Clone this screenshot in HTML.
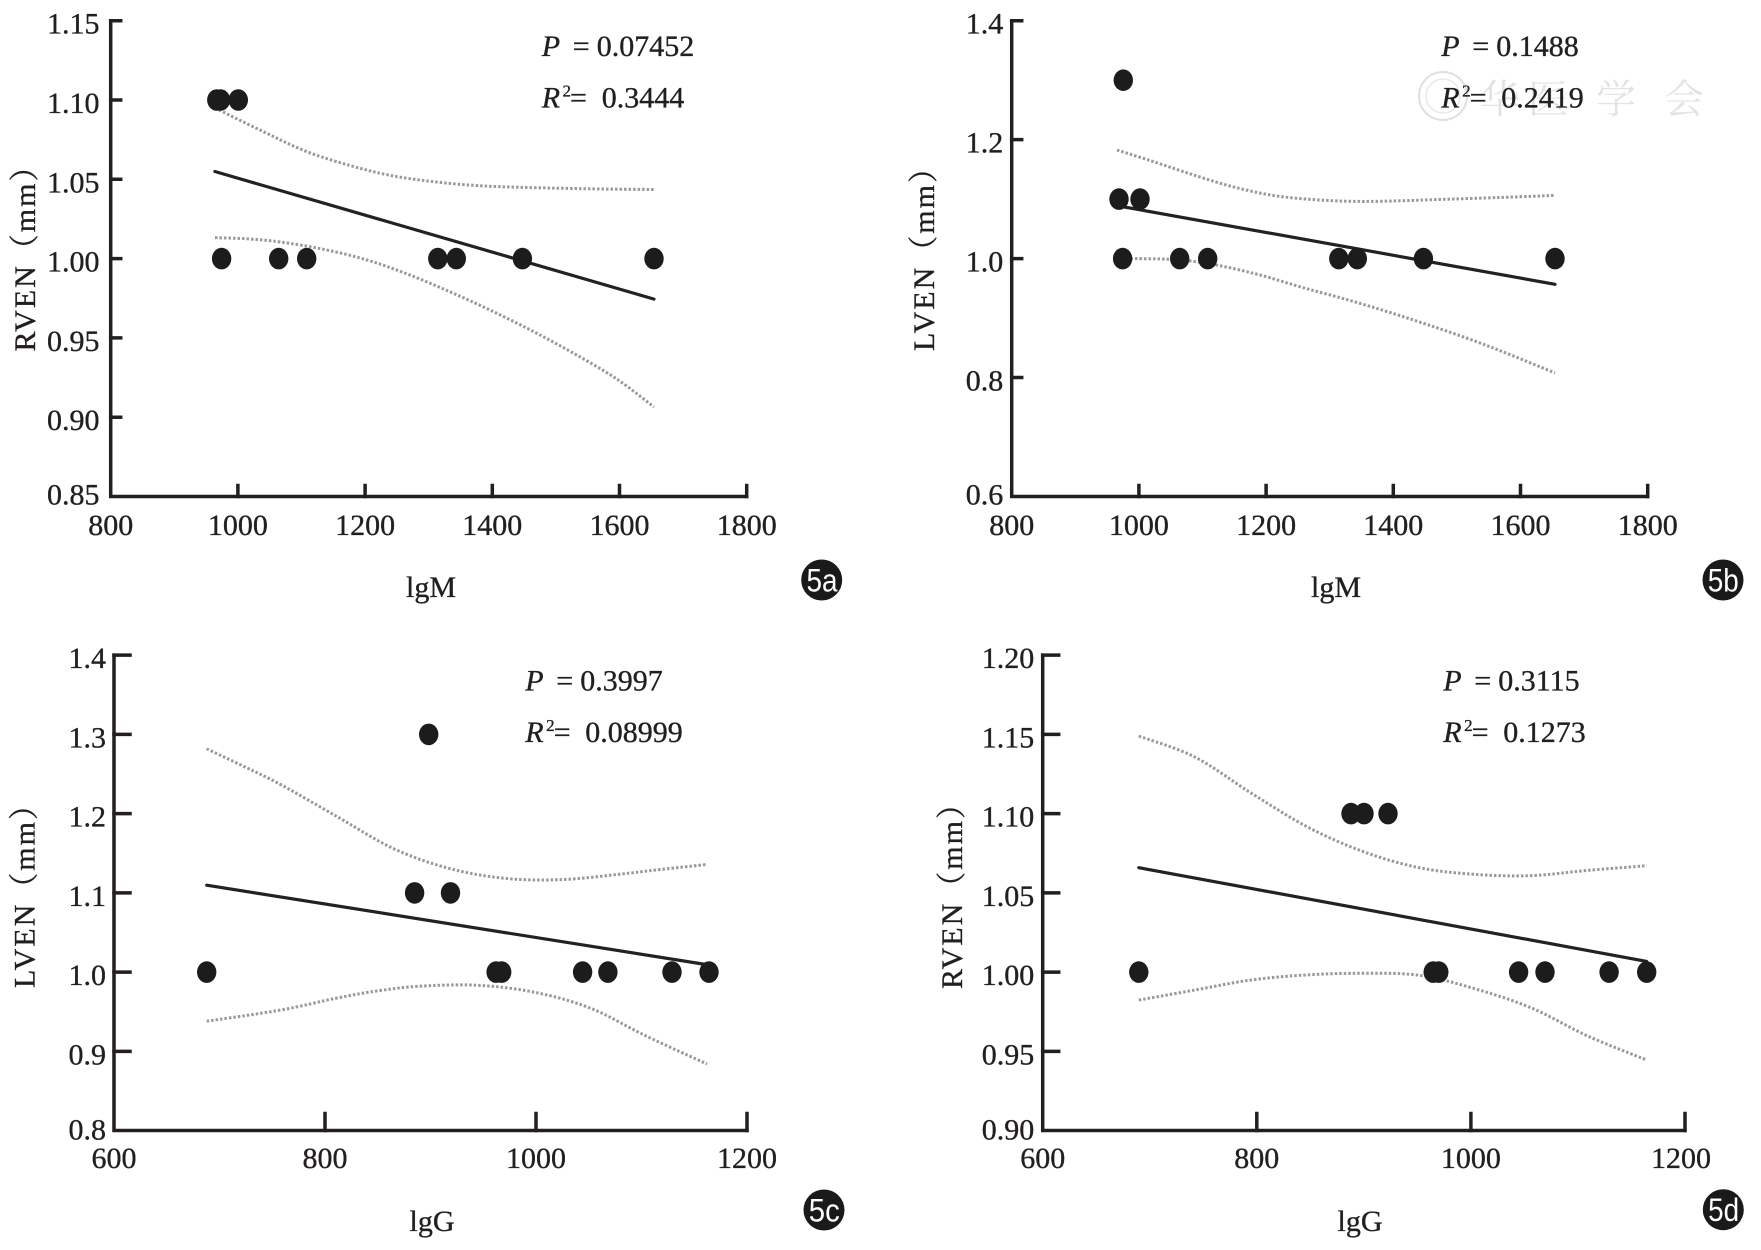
<!DOCTYPE html>
<html>
<head>
<meta charset="utf-8">
<style>
  html,body{margin:0;padding:0;background:#fff;}
  svg{display:block;}
  .t{font-family:"Liberation Serif","Noto Serif CJK SC",serif;font-size:30px;fill:#231f20;stroke:#231f20;stroke-width:0.35;}
  .ax{fill:none;stroke:#231f20;stroke-width:3.5;stroke-linecap:square;stroke-linejoin:miter;}
  .reg{fill:none;stroke:#222;stroke-width:3.2;stroke-linecap:round;}
  .ci{fill:none;stroke:#9a9a9a;stroke-width:3;stroke-dasharray:2.5 2;stroke-linejoin:round;}
  .pt{fill:#1c1c1c;}
  .bd{font-family:"Liberation Sans",sans-serif;font-size:32px;fill:#fff;}
</style>
</head>
<body>
<svg width="1761" height="1250" viewBox="0 0 1761 1250" xmlns="http://www.w3.org/2000/svg">
<rect width="1761" height="1250" fill="#fff"/>

<!-- watermark panel b -->
<g opacity="0.9">
  <circle cx="1443" cy="96" r="24" fill="none" stroke="#dcdcdc" stroke-width="2"/>
  <circle cx="1443" cy="96" r="17" fill="none" stroke="#e6e6e6" stroke-width="1.5"/>
  <text x="1480" y="113" font-family="'Noto Serif CJK SC',serif" font-size="40" fill="#e0e0e0">华</text>
  <text x="1528" y="113" font-family="'Noto Serif CJK SC',serif" font-size="40" fill="#e0e0e0">医</text>
  <text x="1596" y="113" font-family="'Noto Serif CJK SC',serif" font-size="40" fill="#e0e0e0">学</text>
  <text x="1664" y="113" font-family="'Noto Serif CJK SC',serif" font-size="40" fill="#e0e0e0">会</text>
</g>

<!-- ================= PANEL A ================= -->
<path class="ax" d="M110.7,20.7 V496.5 H746.7"/>
<path class="ax" d="M110.7,20.7 h10 M110.7,100 h10 M110.7,179.3 h10 M110.7,258.6 h10 M110.7,337.9 h10 M110.7,417.2 h10
 M237.9,496.5 v-11 M365.1,496.5 v-11 M492.3,496.5 v-11 M619.5,496.5 v-11 M746.7,496.5 v-11"/>
<g class="t" text-anchor="end">
  <text x="99.5" y="33.7">1.15</text>
  <text x="99.5" y="113">1.10</text>
  <text x="99.5" y="192.3">1.05</text>
  <text x="99.5" y="271.6">1.00</text>
  <text x="99.5" y="350.9">0.95</text>
  <text x="99.5" y="430.2">0.90</text>
  <text x="99.5" y="504.5">0.85</text>
</g>
<g class="t" text-anchor="middle">
  <text x="110.7" y="535">800</text>
  <text x="237.9" y="535">1000</text>
  <text x="365.1" y="535">1200</text>
  <text x="492.3" y="535">1400</text>
  <text x="619.5" y="535">1600</text>
  <text x="746.7" y="535">1800</text>
  <text x="431" y="597">lgM</text>
  <text transform="translate(35,251.5) rotate(-90)" textLength="200" lengthAdjust="spacing">RVEN（mm）</text>
</g>
<polyline class="ci" points="215,108 262,131 306.4,151.5 350,165.5 390.4,175.4 432,181.5 474.4,185.4 516,187.2 558.5,188.2 600,189 654,189.5"/>
<polyline class="ci" points="215,237.6 250,239 280.4,242 322,249 364.4,259.2 406,273.5 448.4,291.1 490,310 532.4,331 574,353.5 616.5,378.8 654,407"/>
<path class="reg" d="M214.9,171.5 L654,299.1"/>
<g class="pt">
  <ellipse cx="216.8" cy="100" rx="9.7" ry="10.8"/>
  <ellipse cx="220.5" cy="100" rx="9.7" ry="10.8"/>
  <ellipse cx="238.3" cy="100" rx="9.7" ry="10.8"/>
  <ellipse cx="221.6" cy="258.6" rx="9.7" ry="10.8"/>
  <ellipse cx="278.7" cy="258.6" rx="9.7" ry="10.8"/>
  <ellipse cx="306.7" cy="258.6" rx="9.7" ry="10.8"/>
  <ellipse cx="437.8" cy="258.6" rx="9.7" ry="10.8"/>
  <ellipse cx="456.3" cy="258.6" rx="9.7" ry="10.8"/>
  <ellipse cx="522.4" cy="258.6" rx="9.7" ry="10.8"/>
  <ellipse cx="654" cy="258.6" rx="9.7" ry="10.8"/>
</g>
<g class="t">
  <text x="541.7" y="56" font-style="italic">P</text>
  <text x="572.7" y="56">=</text>
  <text x="596.7" y="56">0.07452</text>
  <text x="541.7" y="107.3" font-style="italic">R</text>
  <text x="562.5" y="96.5" font-size="17">2</text>
  <text x="570" y="107.3">=</text>
  <text x="601.7" y="107.3">0.3444</text>
</g>
<circle cx="821.7" cy="580" r="20.5" fill="#1a1a1a"/>
<text class="bd" x="822" y="591.5" text-anchor="middle" textLength="31" lengthAdjust="spacingAndGlyphs">5a</text>

<!-- ================= PANEL B ================= -->
<path class="ax" d="M1011.7,20.7 V496.5 H1647.7"/>
<path class="ax" d="M1011.7,20.7 h10 M1011.7,139.65 h10 M1011.7,258.6 h10 M1011.7,377.55 h10
 M1138.9,496.5 v-11 M1266.1,496.5 v-11 M1393.3,496.5 v-11 M1520.5,496.5 v-11 M1647.7,496.5 v-11"/>
<g class="t" text-anchor="end">
  <text x="1003.3" y="33.7">1.4</text>
  <text x="1003.3" y="152.65">1.2</text>
  <text x="1003.3" y="271.6">1.0</text>
  <text x="1003.3" y="390.55">0.8</text>
  <text x="1003.3" y="504.5">0.6</text>
</g>
<g class="t" text-anchor="middle">
  <text x="1011.7" y="535">800</text>
  <text x="1138.9" y="535">1000</text>
  <text x="1266.1" y="535">1200</text>
  <text x="1393.3" y="535">1400</text>
  <text x="1520.5" y="535">1600</text>
  <text x="1647.7" y="535">1800</text>
  <text x="1336" y="597">lgM</text>
  <text transform="translate(934,252) rotate(-90)" textLength="198" lengthAdjust="spacing">LVEN（mm）</text>
</g>
<polyline class="ci" points="1117,150 1150,160.5 1188.9,173.4 1230,186 1273,195.4 1315,199.7 1357.2,201.4 1400,200.8 1441.3,199.4 1500,197.5 1555,195.4"/>
<polyline class="ci" points="1117,258.6 1175,259.5 1217,265.2 1260,275 1301.1,287.1 1343,298.5 1385.2,311 1427,324.5 1469.3,339 1511,355 1555,373"/>
<path class="reg" d="M1116,205.5 L1555,284.3"/>
<g class="pt">
  <ellipse cx="1123.3" cy="80.2" rx="9.7" ry="10.8"/>
  <ellipse cx="1119" cy="199.1" rx="9.7" ry="10.8"/>
  <ellipse cx="1140" cy="199.1" rx="9.7" ry="10.8"/>
  <ellipse cx="1122.6" cy="258.6" rx="9.7" ry="10.8"/>
  <ellipse cx="1179.7" cy="258.6" rx="9.7" ry="10.8"/>
  <ellipse cx="1207.7" cy="258.6" rx="9.7" ry="10.8"/>
  <ellipse cx="1338.8" cy="258.6" rx="9.7" ry="10.8"/>
  <ellipse cx="1357.3" cy="258.6" rx="9.7" ry="10.8"/>
  <ellipse cx="1423.4" cy="258.6" rx="9.7" ry="10.8"/>
  <ellipse cx="1555" cy="258.6" rx="9.7" ry="10.8"/>
</g>
<g class="t">
  <text x="1441.3" y="56" font-style="italic">P</text>
  <text x="1472.3" y="56">=</text>
  <text x="1496.3" y="56">0.1488</text>
  <text x="1441.3" y="107.3" font-style="italic">R</text>
  <text x="1462.1" y="96.5" font-size="17">2</text>
  <text x="1469.6" y="107.3">=</text>
  <text x="1501.3" y="107.3">0.2419</text>
</g>
<circle cx="1723" cy="580" r="20.5" fill="#1a1a1a"/>
<text class="bd" x="1723.3" y="591.5" text-anchor="middle" textLength="31" lengthAdjust="spacingAndGlyphs">5b</text>

<!-- ================= PANEL C ================= -->
<path class="ax" d="M114,655.1 V1130.5 H747"/>
<path class="ax" d="M114,655.1 h16 M114,734.35 h16 M114,813.6 h16 M114,892.85 h16 M114,972.1 h16 M114,1051.35 h16
 M325,1130.5 v-17 M536,1130.5 v-17 M747,1130.5 v-17"/>
<g class="t" text-anchor="end">
  <text x="106" y="668.1">1.4</text>
  <text x="106" y="747.35">1.3</text>
  <text x="106" y="826.6">1.2</text>
  <text x="106" y="905.85">1.1</text>
  <text x="106" y="985.1">1.0</text>
  <text x="106" y="1064.35">0.9</text>
  <text x="106" y="1139.5">0.8</text>
</g>
<g class="t" text-anchor="middle">
  <text x="114" y="1168">600</text>
  <text x="325" y="1168">800</text>
  <text x="536" y="1168">1000</text>
  <text x="747" y="1168">1200</text>
  <text x="432" y="1231">lgG</text>
  <text transform="translate(34.5,889) rotate(-90)" textLength="198" lengthAdjust="spacing">LVEN（mm）</text>
</g>
<polyline class="ci" points="206.7,748.8 244,766.5 280.9,784.7 337.1,816.6 393.3,848.5 449.5,868.5 505.6,878.4 561.8,879.6 618,874.4 660,869.5 707,864.5"/>
<polyline class="ci" points="206.7,1021.2 280.9,1010 337.1,998 380,990.5 421.4,986.1 477.6,985.3 533.8,992.1 590,1008 646.1,1036 707,1064"/>
<path class="reg" d="M206.7,885.2 L709,965"/>
<g class="pt">
  <ellipse cx="428.7" cy="734.4" rx="9.7" ry="10.8"/>
  <ellipse cx="414.6" cy="892.9" rx="9.7" ry="10.8"/>
  <ellipse cx="450.5" cy="892.9" rx="9.7" ry="10.8"/>
  <ellipse cx="206.7" cy="972.1" rx="9.7" ry="10.8"/>
  <ellipse cx="496.1" cy="972.1" rx="9.7" ry="10.8"/>
  <ellipse cx="501.7" cy="972.1" rx="9.7" ry="10.8"/>
  <ellipse cx="582.6" cy="972.1" rx="9.7" ry="10.8"/>
  <ellipse cx="607.9" cy="972.1" rx="9.7" ry="10.8"/>
  <ellipse cx="672" cy="972.1" rx="9.7" ry="10.8"/>
  <ellipse cx="709" cy="972.1" rx="9.7" ry="10.8"/>
</g>
<g class="t">
  <text x="525.3" y="690.5" font-style="italic">P</text>
  <text x="556.3" y="690.5">=</text>
  <text x="580.3" y="690.5">0.3997</text>
  <text x="525.3" y="742" font-style="italic">R</text>
  <text x="546.1" y="731.2" font-size="17">2</text>
  <text x="553.6" y="742">=</text>
  <text x="585.3" y="742">0.08999</text>
</g>
<circle cx="824" cy="1210" r="20.5" fill="#1a1a1a"/>
<text class="bd" x="824.3" y="1221.5" text-anchor="middle" textLength="31" lengthAdjust="spacingAndGlyphs">5c</text>

<!-- ================= PANEL D ================= -->
<path class="ax" d="M1042.7,655.1 V1130.5 H1685"/>
<path class="ax" d="M1042.7,655.1 h16 M1042.7,734.35 h16 M1042.7,813.6 h16 M1042.7,892.85 h16 M1042.7,972.1 h16 M1042.7,1051.35 h16
 M1256.8,1130.5 v-17 M1470.9,1130.5 v-17 M1685,1130.5 v-17"/>
<g class="t" text-anchor="end">
  <text x="1034.3" y="668.1">1.20</text>
  <text x="1034.3" y="747.35">1.15</text>
  <text x="1034.3" y="826.6">1.10</text>
  <text x="1034.3" y="905.85">1.05</text>
  <text x="1034.3" y="985.1">1.00</text>
  <text x="1034.3" y="1064.35">0.95</text>
  <text x="1034.3" y="1139.5">0.90</text>
</g>
<g class="t" text-anchor="middle">
  <text x="1042.7" y="1168">600</text>
  <text x="1256.8" y="1168">800</text>
  <text x="1470.9" y="1168">1000</text>
  <text x="1681" y="1168">1200</text>
  <text x="1360" y="1231">lgG</text>
  <text transform="translate(962,889) rotate(-90)" textLength="200" lengthAdjust="spacing">RVEN（mm）</text>
</g>
<polyline class="ci" points="1138.8,736.1 1194.4,756.8 1250.6,792.7 1306.8,826.6 1363,851.5 1419.2,867.7 1475.4,874.4 1531.5,875.6 1587.7,870.4 1646.7,865.7"/>
<polyline class="ci" points="1138.8,1000.1 1194.4,990.1 1250.6,980.1 1306.8,974.9 1363,973.3 1419.2,975.3 1475.4,988.9 1531.5,1008 1587.7,1036 1646.7,1060"/>
<path class="reg" d="M1138.8,867.7 L1646.7,961.4"/>
<g class="pt">
  <ellipse cx="1351" cy="813.6" rx="9.7" ry="10.8"/>
  <ellipse cx="1364" cy="813.6" rx="9.7" ry="10.8"/>
  <ellipse cx="1388" cy="813.6" rx="9.7" ry="10.8"/>
  <ellipse cx="1138.8" cy="972.1" rx="9.7" ry="10.8"/>
  <ellipse cx="1433.2" cy="972.1" rx="9.7" ry="10.8"/>
  <ellipse cx="1438.8" cy="972.1" rx="9.7" ry="10.8"/>
  <ellipse cx="1518.6" cy="972.1" rx="9.7" ry="10.8"/>
  <ellipse cx="1545" cy="972.1" rx="9.7" ry="10.8"/>
  <ellipse cx="1609.1" cy="972.1" rx="9.7" ry="10.8"/>
  <ellipse cx="1646.7" cy="972.1" rx="9.7" ry="10.8"/>
</g>
<g class="t">
  <text x="1443.3" y="690.5" font-style="italic">P</text>
  <text x="1474.3" y="690.5">=</text>
  <text x="1498.3" y="690.5">0.3115</text>
  <text x="1443.3" y="742" font-style="italic">R</text>
  <text x="1464.1" y="731.2" font-size="17">2</text>
  <text x="1471.6" y="742">=</text>
  <text x="1503.3" y="742">0.1273</text>
</g>
<circle cx="1723.3" cy="1209.7" r="20.5" fill="#1a1a1a"/>
<text class="bd" x="1723.6" y="1221.2" text-anchor="middle" textLength="31" lengthAdjust="spacingAndGlyphs">5d</text>

</svg>
<script>
(function(){
  try{
    var NS="http://www.w3.org/2000/svg";
    var pls=document.querySelectorAll("polyline.ci");
    for(var k=0;k<pls.length;k++){
      var pl=pls[k];
      var raw=pl.getAttribute("points").trim().split(/\s+/);
      var p=[];
      for(var i=0;i<raw.length;i++){var xy=raw[i].split(",");p.push([+xy[0],+xy[1]]);}
      if(p.length<3)continue;
      var d="M"+p[0][0]+","+p[0][1];
      for(var i=0;i<p.length-1;i++){
        var p0=p[i>0?i-1:0],p1=p[i],p2=p[i+1],p3=p[i+2<p.length?i+2:p.length-1];
        var c1x=p1[0]+(p2[0]-p0[0])/6,c1y=p1[1]+(p2[1]-p0[1])/6;
        var c2x=p2[0]-(p3[0]-p1[0])/6,c2y=p2[1]-(p3[1]-p1[1])/6;
        d+=" C"+c1x.toFixed(2)+","+c1y.toFixed(2)+" "+c2x.toFixed(2)+","+c2y.toFixed(2)+" "+p2[0]+","+p2[1];
      }
      var path=document.createElementNS(NS,"path");
      path.setAttribute("class","ci");
      path.setAttribute("d",d);
      pl.parentNode.replaceChild(path,pl);
    }
  }catch(e){}
})();
</script>
</body>
</html>
